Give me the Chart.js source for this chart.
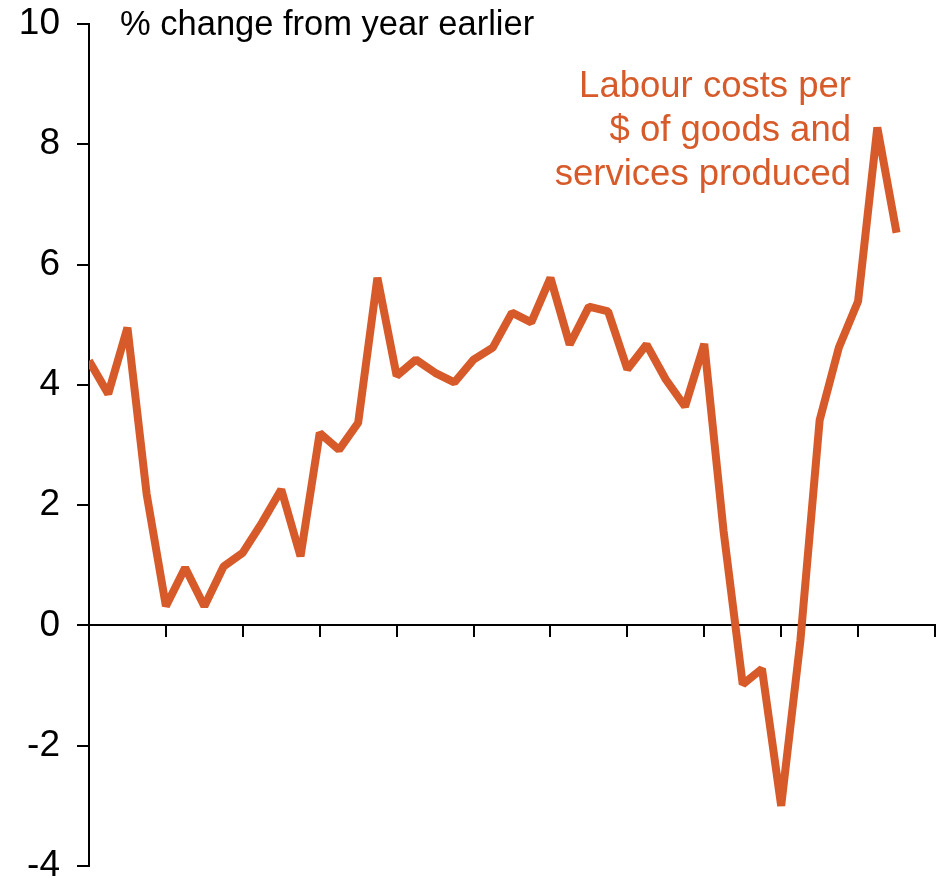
<!DOCTYPE html>
<html>
<head>
<meta charset="utf-8">
<script src="https://cdn.jsdelivr.net/npm/chart.js@4.4.1/dist/chart.umd.min.js"></script>
<style>
  html, body { margin: 0; padding: 0; background: #fff; }
  #wrap { width: 942px; height: 878px; }
</style>
</head>
<body>
<div id="wrap"><canvas id="lineChart"></canvas></div>
<script>
// quarterly data, year ticks every 4 quarters
var quarters = [];
for (var q = 0; q < 43; q++) quarters.push(q);

var labourCosts = [
    4.40, 3.85, 4.95, 2.18, 0.32, 0.96, 0.32, 0.98, 1.21, 1.71,
    2.26, 1.15, 3.20, 2.92, 3.37, 5.78, 4.15, 4.42, 4.20, 4.04,
    4.42, 4.62, 5.20, 5.04, 5.78, 4.67, 5.30, 5.22, 4.26, 4.67,
    4.09, 3.64, 4.68, 1.58, -0.98, -0.72, -3.00, -0.25, 3.41, 4.62,
    5.39, 8.28, 6.53
];

var yTicks = [-4, -2, 0, 2, 4, 6, 8, 10];

var unitsLabel = '% change from year earlier';
var seriesLabel = ['Labour costs per', '$ of goods and', 'services produced'];

var orange = '#D75B2A';
var fontFamily = '"Liberation Sans", Arial, sans-serif';

// text annotations
var textPlugin = {
    id: 'textPlugin',
    afterDraw: function(chart) {
        var c = chart.ctx;
        c.save();
        c.textBaseline = 'middle';
        c.font = '34.5px ' + fontFamily;
        c.fillStyle = '#000';
        c.textAlign = 'left';
        c.fillText(unitsLabel, 120, 25);
        c.font = '36.5px ' + fontFamily;
        c.fillStyle = orange;
        c.textAlign = 'right';
        for (var i = 0; i < seriesLabel.length; i++) {
            c.fillText(seriesLabel[i], 851, 87 + i * 44);
        }
        c.restore();
    }
};

var ctx = document.getElementById('lineChart').getContext('2d');
var lineChart = new Chart(ctx, {
    type: 'line',
    data: {
        datasets: [{
            label: 'Labour costs',
            data: quarters.map(function(q, i) { return { x: q, y: labourCosts[i] }; }),
            borderColor: orange,
            borderWidth: 8,
            borderJoinStyle: 'bevel',
            pointRadius: 0,
            tension: 0,
            fill: false
        }]
    },
    options: {
        responsive: true,
        maintainAspectRatio: false,
        animation: false,
        layout: { padding: { top: 24, right: 7, bottom: 12, left: 0 } },
        plugins: {
            legend: { display: false },
            tooltip: { enabled: false }
        },
        scales: {
            x: {
                type: 'linear',
                position: { y: 0 },
                min: 0,
                max: 44,
                ticks: { stepSize: 4, display: false },
                grid: {
                    drawOnChartArea: false,
                    drawTicks: true,
                    tickLength: 11,
                    color: '#000',
                    lineWidth: 2
                },
                border: { color: '#000', width: 2 }
            },
            y: {
                min: -4,
                max: 10,
                afterBuildTicks: function(scale) {
                    scale.ticks = yTicks.map(function(v) { return { value: v }; });
                },
                afterFit: function(scale) {
                    scale.width = 89;
                    scale.paddingBottom = 0;
                    scale.paddingTop = 0;
                },
                ticks: {
                    color: '#000',
                    padding: 17,
                    font: { family: fontFamily, size: 37 }
                },
                grid: {
                    drawOnChartArea: false,
                    drawTicks: true,
                    tickLength: 12,
                    color: '#000',
                    lineWidth: 2
                },
                border: { color: '#000', width: 2 }
            }
        }
    },
    plugins: [textPlugin]
});
</script>
</body>
</html>
